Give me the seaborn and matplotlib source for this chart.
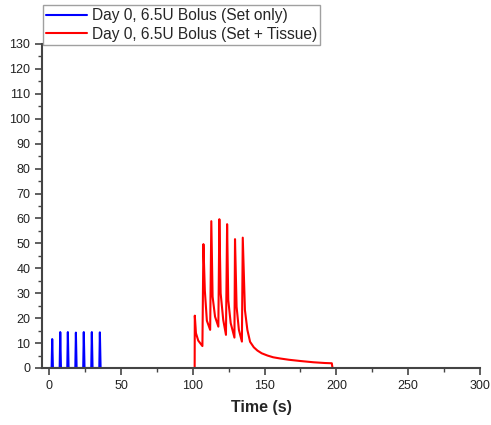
import numpy as np
import pandas as pd
import matplotlib
matplotlib.use("Agg")
import matplotlib.pyplot as plt
import seaborn as sns
from matplotlib.ticker import MultipleLocator

# ---- data ----
set_only_time = [0.0, 1.7, 2.1, 2.6, 7.3, 7.7, 8.2, 12.6, 13.0, 13.5, 18.2, 18.6, 19.1,
                 23.7, 24.1, 24.6, 29.3, 29.7, 30.2, 34.9, 35.3, 35.8, 36.3]
set_only_rate = [0, 0, 11.6, 0, 0, 14.4, 0, 0, 14.4, 0, 0, 14.2,
                 0, 0, 14.4, 0, 0, 14.4, 0, 0, 14.3, 0, 0]

tissue_time = [101.3, 101.4, 102.2, 103.8, 106.7, 107.4, 108.4, 109.8, 112.1,
               112.9, 113.8, 115.5, 117.8, 118.5, 119.4, 121.2, 123.1,
               123.9, 124.7, 126.4, 129.0, 129.4, 130.5, 132.1, 134.2,
               134.8, 136.3, 138.0, 139.9, 142.5, 145.0, 148.0, 152.0, 156.0,
               161.0, 167.0, 175.0, 184.0, 192.0, 196.8, 197.3]
tissue_rate = [0, 21, 14, 11, 8.8, 49.7, 31, 19, 15.3,
               58.9, 28.6, 20.6, 16.6, 59.7, 30, 19.3, 13.3,
               57.7, 27.3, 18, 12.2, 51.7, 24.6, 15.3, 10.6,
               52.3, 23.3, 15.3, 10.5, 8.3, 7.0, 5.9, 5.0, 4.3,
               3.8, 3.3, 2.8, 2.3, 2.0, 1.9, 0]

label_blue = "Day 0, 6.5U Bolus (Set only)"
label_red = "Day 0, 6.5U Bolus (Set + Tissue)"

sns.set_style("ticks")
plt.rcParams["font.family"] = ["Liberation Sans", "DejaVu Sans"]

fig = plt.figure(figsize=(4.91, 4.25), dpi=100)
ax = fig.add_axes([42/491, 1-368/425, (480-42)/491, (368-44)/425])

df_b = pd.DataFrame({"t": set_only_time, "y": set_only_rate})
df_r = pd.DataFrame({"t": tissue_time, "y": tissue_rate})
sns.lineplot(data=df_b, x="t", y="y", sort=False, estimator=None, color="#0000ff",
             lw=1.5, ax=ax, label=label_blue)
sns.lineplot(data=df_r, x="t", y="y", sort=False, estimator=None, color="#ff0000",
             lw=1.5, ax=ax, label=label_red)

ax.set_xlim(-5, 300)
ax.set_ylim(0, 130)
ax.xaxis.set_major_locator(MultipleLocator(50))
ax.xaxis.set_minor_locator(MultipleLocator(25))
ax.yaxis.set_major_locator(MultipleLocator(10))
ax.yaxis.set_minor_locator(MultipleLocator(5))
ax.tick_params(which="major", direction="out", length=5, width=1.2, colors="#444444",
               labelsize=9, labelcolor="#222222")
ax.tick_params(which="minor", direction="out", length=3, width=1.0, colors="#444444")
for s in ["top", "right"]:
    ax.spines[s].set_visible(False)
for s in ["left", "bottom"]:
    ax.spines[s].set_color("#444444")
    ax.spines[s].set_linewidth(1.5)
ax.set_xlabel("Time (s)", fontsize=11.5, fontweight="bold", labelpad=6)
ax.set_ylabel("")

ax.get_legend().remove()
h, l = ax.get_legend_handles_labels()
leg = fig.legend(h, l, loc="upper left", bbox_to_anchor=(43/491, 1-5/425),
                 bbox_transform=fig.transFigure, borderaxespad=0, fontsize=11.2,
                 fancybox=False, frameon=True, handlelength=2.6, handletextpad=0.35,
                 borderpad=0.2, labelspacing=0.22)
leg.get_frame().set_edgecolor("#888888")
leg.get_frame().set_linewidth(1.0)

fig.savefig("out.png", dpi=100)
